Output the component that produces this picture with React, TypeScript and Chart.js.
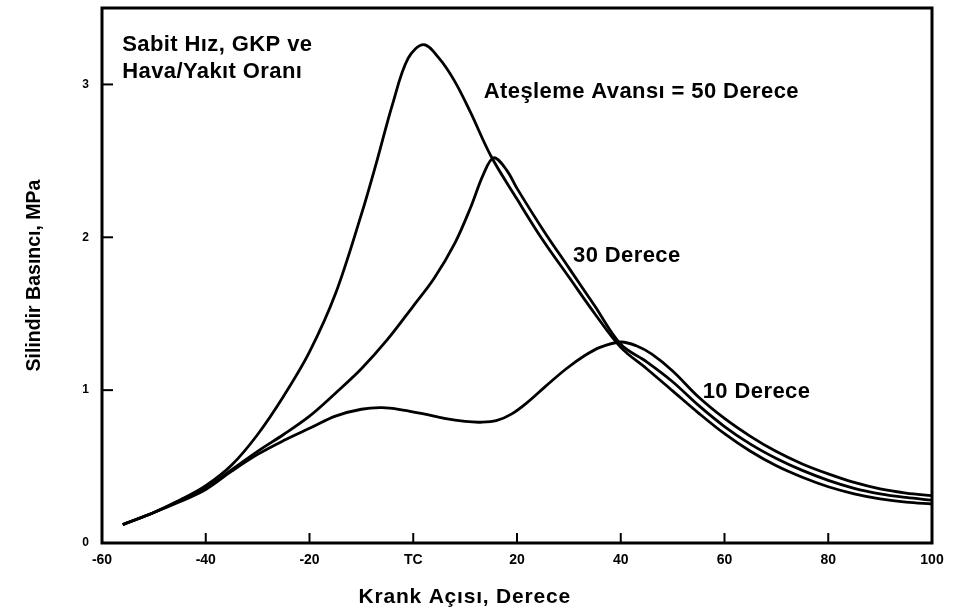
import React, { useEffect, useRef } from "react";
import { Chart, registerables } from "chart.js";

Chart.register(...registerables);

// Crank angle (degrees) and cylinder pressure (MPa) for each spark advance
const angles50 = [-56, -50, -45, -40, -35, -30, -25, -20, -15, -10, -7, -4, -1, 2, 5, 8, 11, 15, 20, 25, 30, 35, 40, 45, 50, 55, 60, 65, 70, 75, 80, 85, 90, 95, 100];
const pressure50 = [0.12, 0.2, 0.28, 0.375, 0.51, 0.71, 0.96, 1.25, 1.63, 2.15, 2.5, 2.87, 3.17, 3.26, 3.17, 3.02, 2.82, 2.53, 2.25, 1.98, 1.74, 1.5, 1.28, 1.14, 0.995, 0.85, 0.715, 0.6, 0.505, 0.43, 0.368, 0.322, 0.289, 0.267, 0.255];

const angles30 = [-56, -50, -45, -40, -35, -30, -25, -20, -15, -10, -5, 0, 4, 8, 11, 13.5, 15.5, 18, 20, 25, 30, 35, 40, 45, 50, 55, 60, 65, 70, 75, 80, 85, 90, 95, 100];
const pressure30 = [0.12, 0.2, 0.28, 0.36, 0.48, 0.6, 0.71, 0.83, 0.98, 1.14, 1.33, 1.55, 1.73, 1.96, 2.19, 2.41, 2.52, 2.44, 2.32, 2.05, 1.8, 1.55, 1.3, 1.185, 1.055, 0.9, 0.762, 0.647, 0.553, 0.475, 0.41, 0.358, 0.322, 0.298, 0.28];

const angles10 = [-56, -50, -45, -40, -35, -30, -25, -20, -15, -10, -6, -2, 2, 6, 10, 13, 16, 19, 22, 25.5, 29.5, 33, 36, 40, 43, 46, 50, 55, 60, 65, 70, 75, 80, 85, 90, 95, 100];
const pressure10 = [0.12, 0.2, 0.27, 0.35, 0.47, 0.58, 0.67, 0.75, 0.83, 0.875, 0.885, 0.87, 0.845, 0.815, 0.795, 0.79, 0.8, 0.845, 0.92, 1.025, 1.14, 1.225, 1.28, 1.315, 1.29, 1.235, 1.125, 0.955, 0.815, 0.698, 0.598, 0.517, 0.452, 0.396, 0.354, 0.327, 0.31];

const xTickValues = [-60, -40, -20, 0, 20, 40, 60, 80, 100];
const xTickLabels = ["-60", "-40", "-20", "TC", "20", "40", "60", "80", "100"];
const yTickValues = [0, 1, 2, 3];
const yTickLabels = ["0", "1", "2", "3"];

const xTitle = "Krank Açısı, Derece";
const yTitle = "Silindir Basıncı, MPa";

// text labels placed at data coordinates (left edge, vertical centre)
const noteTexts = ["Sabit Hız, GKP ve", "Hava/Yakıt Oranı", "Ateşleme Avansı = 50 Derece", "30 Derece", "10 Derece"];
const noteAngles = [-56.1, -56.1, 13.6, 30.8, 55.8];
const notePressures = [3.26, 3.08, 2.95, 1.88, 0.99];

const toPoints = (xs: number[], ys: number[]) => xs.map((x, i) => ({ x, y: ys[i] }));

const FONT = "'Liberation Sans', Arial, Helvetica, sans-serif";

const framePlugin = {
  id: "frameAndNotes",
  afterDraw(chart: any) {
    const { ctx, chartArea, scales } = chart;
    const xs = scales.x;
    const ys = scales.y;
    ctx.save();
    ctx.strokeStyle = "#000";
    ctx.lineWidth = 3;
    ctx.strokeRect(chartArea.left, chartArea.top, chartArea.right - chartArea.left, chartArea.bottom - chartArea.top);
    ctx.lineWidth = 2;
    xTickValues.forEach((v) => {
      if (v <= -60 || v >= 100) return;
      const px = xs.getPixelForValue(v);
      ctx.beginPath();
      ctx.moveTo(px, chartArea.bottom);
      ctx.lineTo(px, chartArea.bottom - 10);
      ctx.stroke();
    });
    yTickValues.forEach((v) => {
      if (v <= 0) return;
      const py = ys.getPixelForValue(v);
      ctx.beginPath();
      ctx.moveTo(chartArea.left, py);
      ctx.lineTo(chartArea.left + 11, py);
      ctx.stroke();
    });
    ctx.fillStyle = "#000";
    ctx.textBaseline = "middle";
    ctx.textAlign = "left";
    ctx.font = `bold 22px ${FONT}`;
    (ctx as any).letterSpacing = "0.4px";
    noteTexts.forEach((t, i) => {
      ctx.fillText(t, xs.getPixelForValue(noteAngles[i]), ys.getPixelForValue(notePressures[i]));
    });
    // axis titles
    (ctx as any).letterSpacing = "0.8px";
    ctx.textAlign = "center";
    ctx.font = `bold 21px ${FONT}`;
    ctx.fillText(xTitle, chartArea.left + (chartArea.right - chartArea.left) * 0.437, chartArea.bottom + 54);
    (ctx as any).letterSpacing = "0px";
    ctx.font = `bold 19.5px ${FONT}`;
    ctx.translate(35, (chartArea.top + chartArea.bottom) / 2);
    ctx.rotate(-Math.PI / 2);
    ctx.fillText(yTitle, 0, 0);
    ctx.restore();
  },
};

export default function App() {
  const canvasRef = useRef<HTMLCanvasElement | null>(null);

  useEffect(() => {
    document.body.style.margin = "0";
    const canvas = canvasRef.current;
    if (!canvas) return;
    const lineStyle = {
      borderColor: "#000",
      borderWidth: 2.8,
      pointRadius: 0,
      fill: false,
      tension: 0.35,
      showLine: true,
    };
    const chart = new Chart(canvas, {
      type: "scatter",
      data: {
        datasets: [
          { label: "50 Derece", data: toPoints(angles50, pressure50), ...lineStyle },
          { label: "30 Derece", data: toPoints(angles30, pressure30), ...lineStyle },
          { label: "10 Derece", data: toPoints(angles10, pressure10), ...lineStyle },
        ],
      },
      options: {
        animation: false,
        responsive: false,
        maintainAspectRatio: false,
        layout: { padding: { left: 0, right: 21, top: 8, bottom: 0 } },
        plugins: { legend: { display: false }, tooltip: { enabled: false } },
        scales: {
          x: {
            type: "linear",
            min: -60,
            max: 100,
            afterBuildTicks: (s: any) => {
              s.ticks = xTickValues.map((v) => ({ value: v }));
            },
            afterFit: (s: any) => {
              s.height = 72;
              s.paddingLeft = 0;
              s.paddingRight = 0;
            },
            grid: { display: false, drawTicks: false },
            border: { display: false },
            ticks: {
              color: "#000",
              padding: 9,
              maxRotation: 0,
              autoSkip: false,
              font: { family: FONT, size: 14, weight: "bold" },
              callback: (v: any) => {
                const i = xTickValues.indexOf(Number(v));
                return i >= 0 ? xTickLabels[i] : "";
              },
            },
            title: { display: false },
          },
          y: {
            type: "linear",
            min: 0,
            max: 3.5,
            afterBuildTicks: (s: any) => {
              s.ticks = yTickValues.map((v) => ({ value: v }));
            },
            afterFit: (s: any) => {
              s.width = 102;
              s.paddingTop = 0;
              s.paddingBottom = 0;
            },
            grid: { display: false, drawTicks: false },
            border: { display: false },
            ticks: {
              color: "#000",
              padding: 13,
              font: { family: FONT, size: 12, weight: "bold" },
              callback: (v: any) => {
                const i = yTickValues.indexOf(Number(v));
                return i >= 0 ? yTickLabels[i] : "";
              },
            },
            title: { display: false },
          },
        },
      },
      plugins: [framePlugin],
    });
    return () => chart.destroy();
  }, []);

  return (
    <div style={{ width: 953, height: 615, background: "#fff" }}>
      <canvas ref={canvasRef} width={953} height={615} style={{ display: "block", width: 953, height: 615 }} />
    </div>
  );
}
